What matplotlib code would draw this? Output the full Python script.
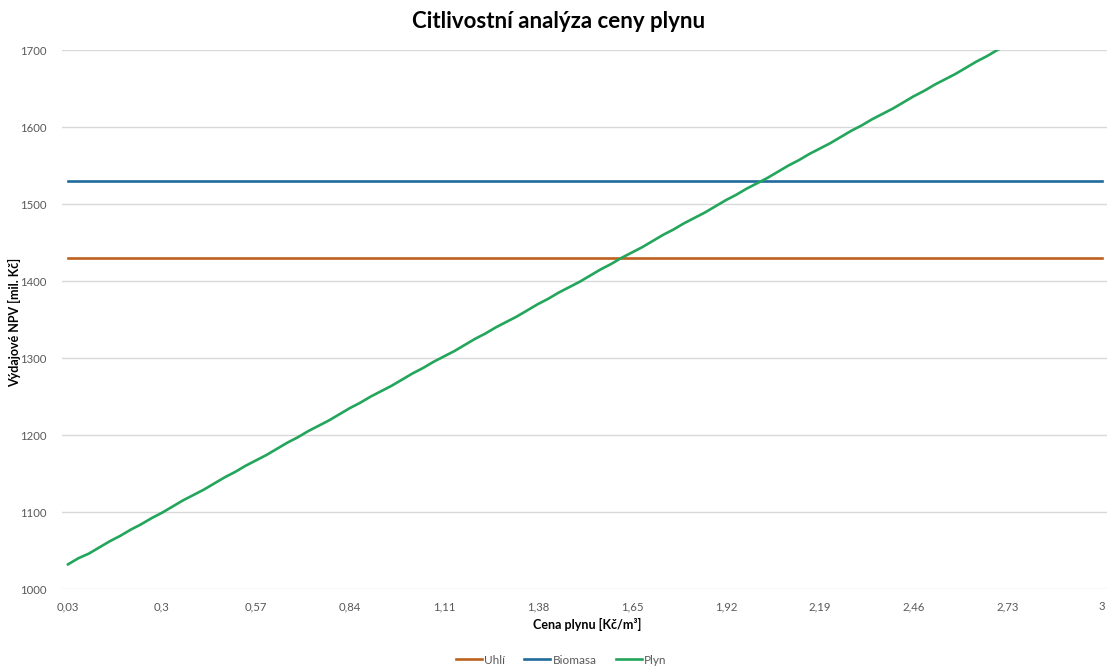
import numpy as np
import matplotlib
matplotlib.use("Agg")
import matplotlib.pyplot as plt

plt.rcParams['font.family'] = ['Lato', 'DejaVu Sans']

# gas price steps 0,03 .. 3,00 Kč/m3 (category axis)
ceny = np.round(np.arange(1, 101) * 0.03, 2)
x_labels = ["0,03", "0,3", "0,57", "0,84", "1,11", "1,38", "1,65",
            "1,92", "2,19", "2,46", "2,73", "3"]

# NPV expenses [mil. Kč]
uhli = [1430] * 100
biomasa = [1530] * 100
plyn = [1032, 1040, 1046, 1054, 1062, 1069, 1077, 1084, 1092, 1099,
        1107, 1115, 1122, 1129, 1137, 1145, 1152, 1160, 1167, 1174,
        1182, 1190, 1197, 1205, 1212, 1219, 1227, 1235, 1242, 1250,
        1257, 1264, 1272, 1280, 1287, 1295, 1302, 1309, 1317, 1325,
        1332, 1340, 1347, 1354, 1362, 1370, 1377, 1385, 1392, 1399,
        1407, 1415, 1422, 1430, 1437, 1444, 1452, 1460, 1467, 1475,
        1482, 1489, 1497, 1505, 1512, 1520, 1527, 1534, 1542, 1550,
        1557, 1565, 1572, 1579, 1587, 1595, 1602, 1610, 1617, 1624,
        1632, 1640, 1647, 1655, 1662, 1669, 1677, 1685, 1692, 1700,
        1707, 1714, 1722, 1730, 1737, 1745, 1752, 1759, 1767, 1775]

idx = np.arange(len(ceny))

fig = plt.figure(figsize=(11.07, 6.68), dpi=100)
ax = fig.add_axes([62 / 1107, 1 - 589 / 668, 1 - 62 / 1107, (589 - 50) / 668])

ax.plot(idx, uhli, color="#BE611E", lw=1.9, label="Uhlí")
ax.plot(idx, biomasa, color="#1F6B9C", lw=1.9, label="Biomasa")
ax.plot(idx, plyn, color="#23A65B", lw=1.9, label="Plyn")

ax.set_xlim(-0.575, 99.5)
ax.set_ylim(1000, 1700)
ax.set_yticks(range(1000, 1701, 100))
ax.set_xticks(idx[::9])
ax.set_xticklabels(x_labels)
ax.grid(axis="y", color="#D9D9D9", lw=1)
ax.set_axisbelow(True)
for s in ax.spines.values():
    s.set_visible(False)
ax.tick_params(length=0, labelsize=8.2, colors="#595959", pad=9)
ax.tick_params(axis="y", pad=11)

fig.text(0.505, 0.968, "Citlivostní analýza ceny plynu", ha="center", va="center",
         fontsize=16, fontweight="bold", color="#000000")
fig.text(587 / 1107, 1 - 624 / 668, "Cena plynu [Kč/m³]", ha="center", va="center",
         fontsize=9, fontweight="bold", color="#000000")
fig.text(15 / 1107, 1 - 322 / 668, "Výdajové NPV [mil. Kč]", ha="center", va="center",
         rotation=90, fontsize=9, fontweight="bold", color="#000000")

fig.legend(loc="center", bbox_to_anchor=(0.507, 1 - 660 / 668), ncol=3, frameon=False,
           fontsize=8.5, handlelength=2.2, handletextpad=0.2, columnspacing=1.6,
           labelcolor="#595959")

fig.savefig("out.png", dpi=100)
